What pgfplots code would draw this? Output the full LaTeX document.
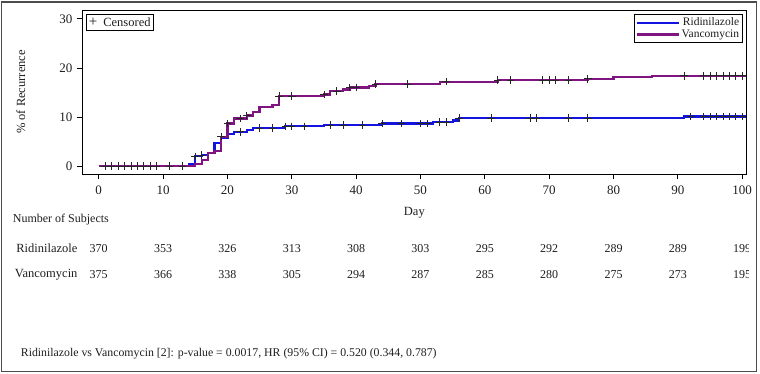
\documentclass[border=0pt]{standalone}
\usepackage{fontspec}
\setmainfont{Liberation Serif}
\usepackage{pgfplots}
\pgfplotsset{compat=1.18}
\definecolor{ridi}{RGB}{20,20,225}
\definecolor{vanc}{RGB}{128,20,128}
\definecolor{txt}{RGB}{30,30,30}
\begin{document}
\begin{tikzpicture}
\useasboundingbox (0,0) rectangle (760pt,-374pt);
\draw[line width=1.4pt, black!70] (1.7pt,-2pt) rectangle (756.3pt,-371.5pt);
\begin{axis}[
  at={(82pt,-174pt)}, anchor=south west, scale only axis,
  width=664.7pt, height=164pt,
  xmin=-2.6, xmax=100.7, ymin=-1.6, ymax=31.8,
  xtick={0,10,...,100}, ytick={0,10,20,30},
  tick pos=left, tick align=outside, major tick length=5pt,
  axis line style={line width=0.9pt},
  tick style={black, line width=0.8pt},
  tick label style={font=\fontsize{13}{15}\selectfont, text=txt},
  xticklabel style={yshift=-3pt},
  yticklabel style={xshift=-1pt},
  /pgf/number format/assume math mode=true,
  xlabel={Day}, ylabel={\% of Recurrence},
  label style={font=\fontsize{12.5}{14}\selectfont, text=txt},
  xlabel style={at={(axis description cs:0.5,0)}, anchor=center, yshift=-39pt},
  ylabel style={at={(axis description cs:-0.0922,0.5)}, anchor=center},
  clip=false,
  legend style={at={(1,1)}, anchor=north east, xshift=-3.7pt, yshift=-4pt,
    draw=black, line width=0.8pt, font=\fontsize{11.5}{12.5}\selectfont,
    inner sep=1.5pt, row sep=-1.5pt, cells={anchor=east, text=txt}},
  legend cell align=right,
  legend image code/.code={\draw[#1] (0pt,0pt) -- (42pt,0pt);},
]
\addplot[const plot, ridi, line width=2.2pt] coordinates {
(0,0) (14,0.5) (15,2.0) (16,2.3) (17,2.7) (18,4.7) (19,5.7) (20,6.6) (21,7.0)
(23,7.3) (24,7.8) (29,8.1) (35,8.4) (44,8.7) (52,9.0) (55,9.3) (56,9.8)
(91,10.1) (100.6,10.1)};
\addplot[const plot, vanc, line width=2.2pt] coordinates {
(0,0) (15,0.5) (16,1.2) (17,2.6) (18,3.1) (19,6.0) (20,8.7) (21,9.7) (23,10.3)
(24,11.1) (25,12.0) (27,12.5) (28,14.3) (35,14.6) (36,15.3) (38,15.6) (39,16.0)
(42,16.3) (43,16.7) (53,17.2) (62,17.5) (76,17.8) (80,18.1) (86,18.4) (100.6,18.4)};
\legend{Ridinilazole, Vancomycin}
% censored marks
\addplot[forget plot, only marks, mark=+, mark size=3.8pt, black!85, mark options={line width=0.65pt}] coordinates {
(1,0) (2,0) (3,0) (4,0) (5,0) (6,0) (7,0) (8,0) (9,0) (11,0) (13,0)};
\addplot[forget plot, only marks, mark=+, mark size=3.8pt, black!85, mark options={line width=0.65pt}] coordinates {
(15,2.0) (16,2.3) (22,7.0) (25,7.8) (27,7.8) (29,8.1) (30,8.1) (32,8.1) (36,8.4)
(38,8.4) (41,8.4) (44,8.7) (47,8.7) (50,8.7) (51,8.7) (53,9.0) (54,9.0) (56,9.8)
(61,9.8) (67,9.8) (68,9.8) (73,9.8) (76,9.8) (92,10.1) (94,10.1) (95,10.1)
(96,10.1) (97,10.1) (98,10.1) (99,10.1) (100,10.1)};
\addplot[forget plot, only marks, mark=+, mark size=3.8pt, black!85, mark options={line width=0.65pt}] coordinates {
(19,6.0) (20,8.7) (22,9.7) (23,10.3) (28,14.3) (30,14.3) (35,14.6) (37,15.3)
(39,16.0) (40,16.0) (43,16.7) (48,16.7) (54,17.2) (62,17.5) (64,17.5) (69,17.5)
(70,17.5) (71,17.5) (73,17.5) (76,17.8) (91,18.4) (94,18.4) (95,18.4) (96,18.4)
(97,18.4) (98,18.4) (99,18.4) (100,18.4)};
% Censored legend box
\node[draw=black, line width=0.8pt, anchor=north west, inner xsep=2.5pt, inner ysep=1.5pt,
  minimum height=15.5pt, font=\fontsize{12.5}{13}\selectfont, text=txt]
  at ([xshift=4pt,yshift=-4pt]rel axis cs:0,1) {\raisebox{-0.5pt}{\fontsize{15}{15}\selectfont +}\hspace{6pt}Censored};
% number at risk table
\begin{scope}[every node/.style={font=\fontsize{12}{14}\selectfont, text=txt}]
\node at ([yshift=-74.5pt]axis cs:0,-1.6) {370};
\node at ([yshift=-74.5pt]axis cs:10,-1.6) {353};
\node at ([yshift=-74.5pt]axis cs:20,-1.6) {326};
\node at ([yshift=-74.5pt]axis cs:30,-1.6) {313};
\node at ([yshift=-74.5pt]axis cs:40,-1.6) {308};
\node at ([yshift=-74.5pt]axis cs:50,-1.6) {303};
\node at ([yshift=-74.5pt]axis cs:60,-1.6) {295};
\node at ([yshift=-74.5pt]axis cs:70,-1.6) {292};
\node at ([yshift=-74.5pt]axis cs:80,-1.6) {289};
\node at ([yshift=-74.5pt]axis cs:90,-1.6) {289};
\node at ([yshift=-100.5pt]axis cs:0,-1.6) {375};
\node at ([yshift=-100.5pt]axis cs:10,-1.6) {366};
\node at ([yshift=-100.5pt]axis cs:20,-1.6) {338};
\node at ([yshift=-100.5pt]axis cs:30,-1.6) {305};
\node at ([yshift=-100.5pt]axis cs:40,-1.6) {294};
\node at ([yshift=-100.5pt]axis cs:50,-1.6) {287};
\node at ([yshift=-100.5pt]axis cs:60,-1.6) {285};
\node at ([yshift=-100.5pt]axis cs:70,-1.6) {280};
\node at ([yshift=-100.5pt]axis cs:80,-1.6) {275};
\node at ([yshift=-100.5pt]axis cs:90,-1.6) {273};
\end{scope}
\coordinate (c100) at (axis cs:100,-1.6);
\end{axis}
\begin{scope}
\clip (600pt,-230pt) rectangle (748.3pt,-300pt);
\node[font=\fontsize{12}{14}\selectfont, text=txt] at ([yshift=-74.5pt]c100) {199};
\node[font=\fontsize{12}{14}\selectfont, text=txt] at ([yshift=-100.5pt]c100) {195};
\end{scope}
\node[anchor=east, font=\fontsize{12.5}{14}\selectfont, text=txt] at (81pt,-248.5pt) {Ridinilazole};
\node[anchor=east, font=\fontsize{12.5}{14}\selectfont, text=txt] at (81pt,-274.5pt) {Vancomycin};
\node[anchor=west, inner sep=0pt, font=\fontsize{12}{14}\selectfont, text=txt] at (12.7pt,-219.3pt) {Number of Subjects};
\node[anchor=west, inner sep=0pt, font=\fontsize{11.8}{14}\selectfont, text=txt] at (20.7pt,-353.3pt) {Ridinilazole vs Vancomycin [2]: p-value = 0.0017, HR (95\% CI) = 0.520 (0.344, 0.787)};
\end{tikzpicture}
\end{document}
